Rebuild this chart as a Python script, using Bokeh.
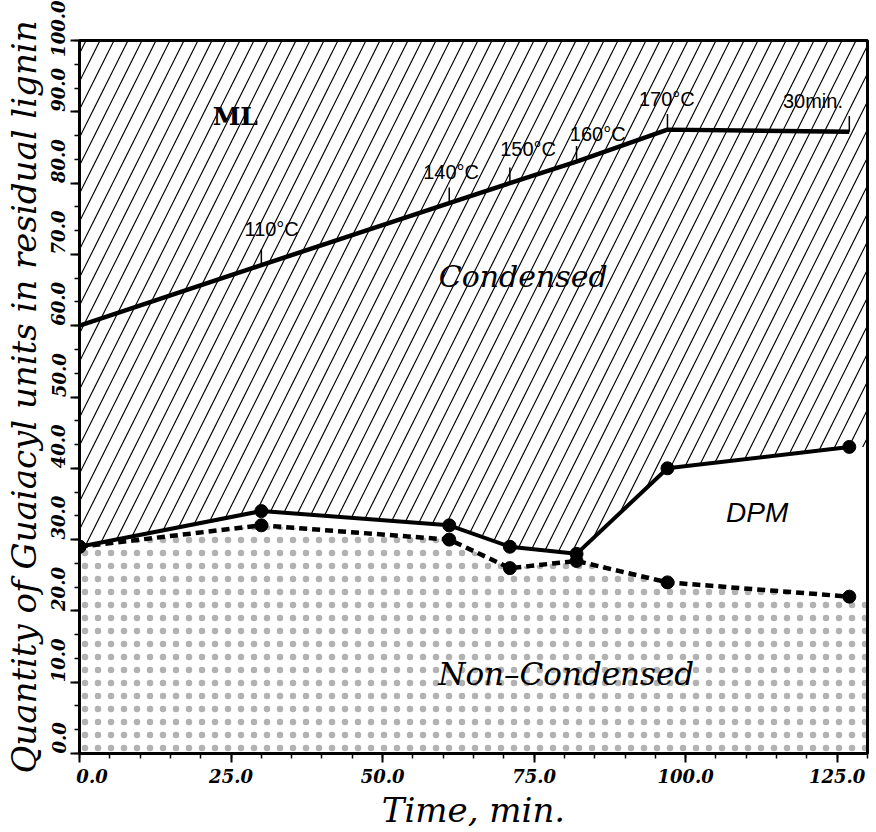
from bokeh.plotting import figure
from bokeh.models import Range1d, SingleIntervalTicker, NumeralTickFormatter, ColumnDataSource, Label
from bokeh.embed import file_html
from bokeh.resources import INLINE

# ---- data ----
time_min = [0, 30, 61, 71, 82, 97, 127]
ml_boundary = [60.0, 68.5, 77.2, 80.0, 83.0, 87.5, 87.2]
condensed_boundary = [29.0, 34.0, 32.0, 29.0, 28.0, 40.0, 43.0]
noncondensed = [29.0, 32.0, 30.0, 26.0, 27.0, 24.0, 22.0]
temp_labels = ["", "110°C", "140°C", "150°C", "160°C", "170°C", "30min."]
y_tick_values = [0, 10, 20, 30, 40, 50, 60, 70, 80, 90, 100]
X_MAX = 130
Y_MAX = 100

# ---- style (label offsets in data units) ----
temp_dx = [0, 1.7, 0.3, 3.0, 3.5, -0.1, -6.0]
temp_dy = [0, 3.5, 2.8, 3.3, 2.4, 2.7, 2.8]
SERIF = "DejaVu Serif"

p = figure(width=876, height=832, output_backend="svg", toolbar_location=None,
           x_range=Range1d(0, X_MAX), y_range=Range1d(0, Y_MAX),
           min_border_left=77, min_border_top=40, min_border_right=9, min_border_bottom=75)

p.xgrid.visible = False
p.ygrid.visible = False
p.outline_line_color = "black"
p.outline_line_width = 3
p.background_fill_color = "white"

# area sources extended to the right edge of the frame
t_ext = time_min + [X_MAX]
cb_ext = condensed_boundary + [condensed_boundary[-1]]
nc_ext = noncondensed + [noncondensed[-1]]
area = ColumnDataSource(dict(t=t_ext, cb=cb_ext, nc=nc_ext,
                             top=[Y_MAX] * len(t_ext), bot=[0] * len(t_ext)))
src = ColumnDataSource(dict(t=time_min, ml=ml_boundary, cb=condensed_boundary, nc=noncondensed))

# hatched region (ML + Condensed)
p.varea(x="t", y1="cb", y2="top", source=area, fill_alpha=0,
        hatch_pattern="/", hatch_color="black", hatch_weight=1.2, hatch_scale=28, hatch_alpha=1)
# dotted region (Non-Condensed)
p.varea(x="t", y1="bot", y2="nc", source=area, fill_alpha=0,
        hatch_pattern=".", hatch_color="black", hatch_scale=13, hatch_alpha=0.3)

# ML boundary line
p.line(x="t", y="ml", source=src, line_color="black", line_width=4.5)

# temperature markers and labels
tick_x = []
tick_y0 = []
tick_y1 = []
for t, v, lab, dx, dy in zip(time_min, ml_boundary, temp_labels, temp_dx, temp_dy):
    if not lab:
        continue
    tick_x.append(t)
    tick_y0.append(v)
    tick_y1.append(v + 2.2)
    p.add_layout(Label(x=t + dx, y=v + dy, text=lab, text_font="Liberation Sans",
                       text_font_size="20px", text_align="center", text_baseline="bottom",
                       text_color="black"))
p.segment(x0=tick_x, y0=tick_y0, x1=tick_x, y1=tick_y1, line_color="black", line_width=1.5)

# condensed / DPM boundary
p.line(x="t", y="cb", source=src, line_color="black", line_width=4)
p.scatter(x="t", y="cb", source=src, size=13, fill_color="black", line_color="black")
# non-condensed boundary
p.line(x="t", y="nc", source=src, line_color="black", line_width=4.5, line_dash="8 5")
p.scatter(x="t", y="nc", source=src, size=13, fill_color="black", line_color="black")

# region labels
p.add_layout(Label(x=25.7, y=89.3, text="ML", text_font=SERIF, text_font_style="bold",
                   text_font_size="25px", text_align="center", text_baseline="middle",
                   text_color="black"))
p.add_layout(Label(x=73.2, y=66.9, text="Condensed", text_font=SERIF, text_font_style="italic",
                   text_font_size="30px", text_align="center", text_baseline="middle",
                   text_color="black"))
p.add_layout(Label(x=111.8, y=33.8, text="DPM", text_font="Liberation Sans", text_font_style="italic",
                   text_font_size="28px", text_align="center", text_baseline="middle",
                   text_color="black"))
p.add_layout(Label(x=80.3, y=11.2, text="Non\u2013Condensed", text_font=SERIF, text_font_style="italic",
                   text_font_size="31px", text_align="center", text_baseline="middle",
                   text_color="black"))

# axes
for ax in (p.xaxis[0], p.yaxis[0]):
    ax.axis_line_width = 3
    ax.major_tick_line_width = 2
    ax.minor_tick_line_width = 1.5
    ax.major_tick_in = 0
    ax.major_tick_out = 9
    ax.minor_tick_in = 0
    ax.minor_tick_out = 5
    ax.major_label_text_font = SERIF
    ax.major_label_text_font_style = "bold italic"
    ax.major_label_text_font_size = "18px"
    ax.major_label_text_color = "black"
    ax.axis_label_text_font = SERIF
    ax.axis_label_text_font_style = "italic"
    ax.axis_label_text_color = "black"
    ax.formatter = NumeralTickFormatter(format="0.0")

p.xaxis[0].ticker = SingleIntervalTicker(interval=25, num_minor_ticks=5)
p.yaxis[0].ticker = SingleIntervalTicker(interval=10, num_minor_ticks=3)
p.xaxis[0].axis_label = "Time, min."
p.yaxis[0].axis_label = "Quantity of Guaiacyl units in residual lignin"
p.xaxis[0].axis_label_text_font_size = "34px"
p.yaxis[0].axis_label_text_font_size = "34px"
p.xaxis[0].major_label_standoff = 3
p.xaxis[0].axis_label_standoff = 0
# the first x label sits a little to the right of its tick in the original
p.xaxis[0].major_label_overrides = {0: "\u2007\u2007" + "0.0"}


# y tick labels read upward and start at their tick, as in the original:
# pad each label in front with invisible figure/punctuation spaces of equal width
def padded(v):
    s = f"{v:.1f}"
    pad = "".join("\u2008" if ch == "." else "\u2007" for ch in s)
    return pad + s


p.yaxis[0].major_label_overrides = {v: padded(v) for v in y_tick_values}
p.yaxis[0].major_label_orientation = "vertical"
p.yaxis[0].major_label_standoff = 1
p.yaxis[0].axis_label_standoff = 2

open("out.html", "w").write(file_html(p, INLINE))
